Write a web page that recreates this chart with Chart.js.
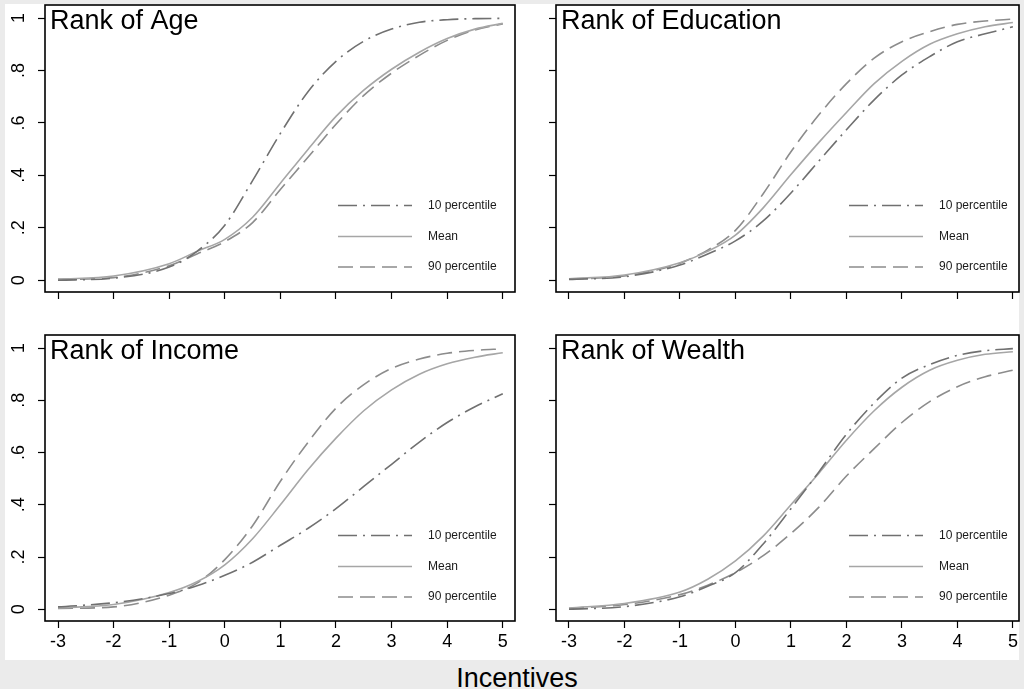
<!DOCTYPE html>
<html>
<head>
<meta charset="utf-8">
<script src="https://cdn.jsdelivr.net/npm/chart.js@4.4.1/dist/chart.umd.min.js"></script>
<style>
  html, body { margin: 0; padding: 0; }
  body {
    width: 1024px; height: 689px; position: relative; overflow: hidden;
    background: #ebebeb; font-family: "Liberation Sans", Arial, sans-serif;
  }
  #graph { position: absolute; left: 5px; top: 4px; width: 1014px; height: 656px; background: #fff; }
  canvas.panel { position: absolute; }
  #xtitle {
    position: absolute; left: 0; width: 1034px; top: 663px;
    text-align: center; font-size: 27px; line-height: 30px; color: #000;
  }
</style>
</head>
<body>
<div id="graph"></div>
<canvas id="pAge" class="panel" width="520" height="320" style="left:0;top:0"></canvas>
<canvas id="pEdu" class="panel" width="504" height="320" style="left:520px;top:0"></canvas>
<canvas id="pInc" class="panel" width="520" height="335" style="left:0;top:325px"></canvas>
<canvas id="pWea" class="panel" width="504" height="335" style="left:520px;top:325px"></canvas>
<div id="xtitle">Incentives</div>

<script>
const incentives = [-3, -2, -1, -0.5, 0, 0.5, 1, 1.5, 2, 2.5, 3, 3.5, 4, 4.5, 5];
const xTicks = [-3, -2, -1, 0, 1, 2, 3, 4, 5];
const yTicks = [0, 0.2, 0.4, 0.6, 0.8, 1];
const seriesNames = ["10 percentile", "Mean", "90 percentile"];

const ageP10  = [0.000, 0.008, 0.050, 0.110, 0.210, 0.380, 0.560, 0.720, 0.835, 0.912, 0.958, 0.984, 0.994, 0.998, 0.999];
const ageMean = [0.004, 0.016, 0.063, 0.110, 0.156, 0.240, 0.370, 0.500, 0.625, 0.725, 0.805, 0.870, 0.922, 0.958, 0.980];
const ageP90  = [0.003, 0.010, 0.055, 0.100, 0.147, 0.220, 0.346, 0.470, 0.595, 0.705, 0.790, 0.858, 0.915, 0.955, 0.978];

const eduP10  = [0.003, 0.013, 0.058, 0.100, 0.150, 0.226, 0.333, 0.454, 0.574, 0.688, 0.783, 0.853, 0.910, 0.940, 0.967];
const eduMean = [0.005, 0.020, 0.067, 0.110, 0.172, 0.276, 0.403, 0.525, 0.640, 0.750, 0.835, 0.900, 0.940, 0.967, 0.983];
const eduP90  = [0.004, 0.016, 0.065, 0.115, 0.190, 0.330, 0.490, 0.630, 0.750, 0.847, 0.910, 0.948, 0.976, 0.989, 0.996];

const incP10  = [0.009, 0.025, 0.060, 0.090, 0.130, 0.180, 0.245, 0.310, 0.385, 0.470, 0.555, 0.640, 0.715, 0.775, 0.825];
const incMean = [0.005, 0.018, 0.064, 0.105, 0.170, 0.270, 0.400, 0.535, 0.655, 0.760, 0.840, 0.900, 0.940, 0.965, 0.982];
const incP90  = [0.003, 0.009, 0.054, 0.100, 0.190, 0.320, 0.490, 0.640, 0.770, 0.860, 0.922, 0.958, 0.980, 0.991, 0.997];

const weaP10  = [0.000, 0.010, 0.048, 0.088, 0.140, 0.250, 0.385, 0.525, 0.670, 0.790, 0.885, 0.937, 0.972, 0.990, 0.998];
const weaMean = [0.005, 0.022, 0.066, 0.115, 0.185, 0.280, 0.400, 0.520, 0.647, 0.760, 0.850, 0.915, 0.953, 0.976, 0.986];
const weaP90  = [0.003, 0.018, 0.056, 0.092, 0.140, 0.205, 0.290, 0.390, 0.510, 0.615, 0.715, 0.795, 0.852, 0.890, 0.915];

const FONT = '"Liberation Sans", Arial, sans-serif';

// line look for each series, same order as seriesNames
const styles = [
  { color: "#707070", dash: [19, 6, 2, 6] },
  { color: "#a6a6a6", dash: [] },
  { color: "#8c8c8c", dash: [15, 7] }
];

// frame, panel title and the small legend inside the plot region
const panelDecor = {
  id: "panelDecor",
  afterDraw(chart, args, opts) {
    const { ctx, chartArea: a } = chart;
    ctx.save();
    ctx.strokeStyle = "#000";
    ctx.lineWidth = 1.6;
    ctx.setLineDash([]);
    ctx.strokeRect(a.left, a.top, a.right - a.left, a.bottom - a.top);

    ctx.fillStyle = "#000";
    ctx.font = "27px " + FONT;
    ctx.textBaseline = "alphabetic";
    ctx.textAlign = "left";
    ctx.fillText(opts.title, a.left + 5, a.top + 24);

    const rows = [200.5, 231.5, 262];
    ctx.font = "12px " + FONT;
    ctx.textBaseline = "middle";
    chart.data.datasets.forEach((ds, i) => {
      const y = a.top + rows[i];
      ctx.strokeStyle = ds.borderColor;
      ctx.lineWidth = ds.borderWidth;
      ctx.setLineDash(ds.borderDash);
      ctx.beginPath();
      ctx.moveTo(a.left + 293, y);
      ctx.lineTo(a.left + 367, y);
      ctx.stroke();
      ctx.setLineDash([]);
      ctx.fillStyle = "#1a1a1a";
      ctx.fillText(ds.label, a.left + 383, y);
    });
    ctx.restore();
  }
};

function fmtY(v) {
  if (v === 0) return "0";
  if (v === 1) return "1";
  return v.toFixed(1).replace("0.", ".");
}

function makePanel(id, title, series, cfg) {
  const datasets = series.map((arr, i) => ({
    label: seriesNames[i],
    data: incentives.map((x, j) => ({ x: x, y: arr[j] })),
    borderColor: styles[i].color,
    borderDash: styles[i].dash,
    borderWidth: 1.6,
    pointRadius: 0,
    fill: false,
    cubicInterpolationMode: "monotone"
  }));

  return new Chart(document.getElementById(id), {
    type: "line",
    data: { datasets },
    plugins: [panelDecor],
    options: {
      responsive: false,
      animation: false,
      events: [],
      layout: { padding: { top: cfg.padTop, right: 5, left: 0, bottom: 0 }, autoPadding: false },
      plugins: {
        legend: { display: false },
        tooltip: { enabled: false },
        panelDecor: { title }
      },
      scales: {
        x: {
          type: "linear",
          min: -3.234,
          max: cfg.xMax,
          afterBuildTicks: s => { s.ticks = xTicks.map(v => ({ value: v })); },
          afterFit: s => { s.height = cfg.xHeight; s.paddingLeft = 0; s.paddingRight = 0; },
          border: { display: false },
          grid: { drawOnChartArea: false, drawTicks: true, tickLength: 7, tickColor: "#000", tickWidth: 1.2 },
          ticks: {
            autoSkip: false,
            maxRotation: 0,
            padding: 3,
            color: "#000",
            font: { family: FONT, size: 18 },
            callback: v => cfg.showX ? String(v) : ""
          }
        },
        y: {
          type: "linear",
          min: -0.045,
          max: 1.05,
          afterBuildTicks: s => { s.ticks = yTicks.map(v => ({ value: v })); },
          afterFit: s => { s.width = cfg.yWidth; s.paddingTop = 0; s.paddingBottom = 0; },
          border: { display: false },
          grid: { drawOnChartArea: false, drawTicks: true, tickLength: 7, tickColor: "#000", tickWidth: 1.2 },
          ticks: {
            minRotation: 90,
            maxRotation: 90,
            crossAlign: "center",
            padding: 11,
            color: "#000",
            font: { family: FONT, size: 18 },
            callback: v => cfg.showY ? fmtY(v) : ""
          }
        }
      }
    }
  });
}

makePanel("pAge", "Rank of Age", [ageP10, ageMean, ageP90],
  { padTop: 5, xMax: 5.22, xHeight: 28, yWidth: 45, showX: false, showY: true });
makePanel("pEdu", "Rank of Education", [eduP10, eduMean, eduP90],
  { padTop: 5, xMax: 5.11, xHeight: 28, yWidth: 36, showX: false, showY: false });
makePanel("pInc", "Rank of Income", [incP10, incMean, incP90],
  { padTop: 10, xMax: 5.22, xHeight: 39, yWidth: 45, showX: true, showY: true });
makePanel("pWea", "Rank of Wealth", [weaP10, weaMean, weaP90],
  { padTop: 10, xMax: 5.11, xHeight: 39, yWidth: 36, showX: true, showY: false });
</script>
</body>
</html>
